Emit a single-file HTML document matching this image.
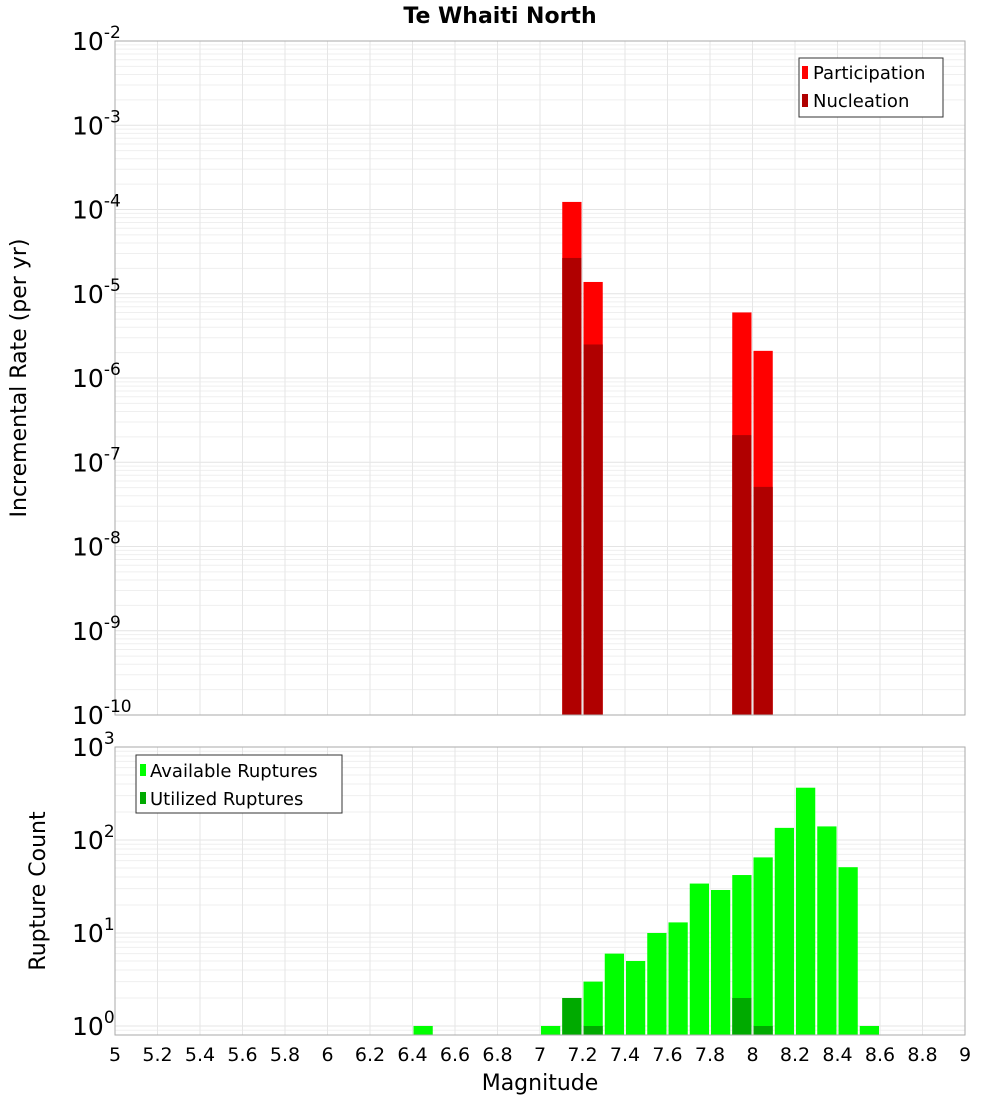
<!DOCTYPE html>
<html><head><meta charset="utf-8"><style>
body{margin:0;background:#fff;font-family:"Liberation Sans","DejaVu Sans",sans-serif}
svg text{font-family:"DejaVu Sans","Liberation Sans",sans-serif}
</style></head><body>
<svg id="c" width="1000" height="1100" xmlns="http://www.w3.org/2000/svg">
<text x="500" y="23" text-anchor="middle" font-size="22" font-weight="bold">Te Whaiti North</text>
<g id="top"></g>
<g id="bot"></g>
<text transform="translate(26,378) rotate(-90)" text-anchor="middle" font-size="22">Incremental Rate (per yr)</text>
<text transform="translate(45,891) rotate(-90)" text-anchor="middle" font-size="22">Rupture Count</text>
<text x="540" y="1090" text-anchor="middle" font-size="22">Magnitude</text>
</svg>
<script>
const mags=[7.15,7.25,7.95,8.05];
const participation=[1.23e-4,1.38e-5,6e-6,2.1e-6];
const nucleation=[2.66e-5,2.5e-6,2.1e-7,5.1e-8];
const countMags=[6.45,7.05,7.15,7.25,7.35,7.45,7.55,7.65,7.75,7.85,7.95,8.05,8.15,8.25,8.35,8.45,8.55];
const available=[1,1,2,3,6,5,10,13,34,29,42,65,135,365,140,51,1];
const utilizedMags=[7.15,7.25,7.95,8.05];
const utilized=[2,1,2,1];
const xTicks=[5,5.2,5.4,5.6,5.8,6,6.2,6.4,6.6,6.8,7,7.2,7.4,7.6,7.8,8,8.2,8.4,8.6,8.8,9];
const topExps=[-2,-3,-4,-5,-6,-7,-8,-9,-10];
const botExps=[0,1,2,3];
const NS="http://www.w3.org/2000/svg";
const L=115,R=965;
const xs=m=>L+(m-5)/4*(R-L);
const BW=xs(5.1)-L-2;
function mk(p,t,a){const e=document.createElementNS(NS,t);for(const k in a)e.setAttribute(k,a[k]);p.appendChild(e);return e;}
function panel(g,top,bot,lmin,lmax,name){
 const ys=v=>bot-(Math.log10(v)-lmin)/(lmax-lmin)*(bot-top);
 for(let d=Math.floor(lmin);d<lmax;d++)for(let k=1;k<10;k++){const v=k*Math.pow(10,d);const lv=Math.log10(v);if(lv<lmin||lv>lmax)continue;
  const ln=mk(g,'line',{x1:L,x2:R,y1:ys(v),y2:ys(v),stroke:k==1?'#e4e4e4':'#efefef','stroke-width':1});
  
  }
 xTicks.forEach(t=>{const ln=mk(g,'line',{x1:xs(t),x2:xs(t),y1:top,y2:bot,stroke:'#e6e6e6'});
  
  });
 return ys;
}
const gt=document.getElementById('top'),gb=document.getElementById('bot');
const yt=panel(gt,41,715,-10,-2,'rate');
mags.forEach((m,i)=>{
 const r=mk(gt,'rect',{x:xs(m-0.05)+1,width:BW,y:yt(participation[i]),height:715-yt(participation[i]),fill:'#ff0000'});
 
 
 const n=mk(gt,'rect',{x:xs(m-0.05)+1,width:BW,y:yt(nucleation[i]),height:715-yt(nucleation[i]),fill:'#b00000'});
 
 
});
mk(gt,'rect',{x:L,y:41,width:R-L,height:674,fill:'none',stroke:'#aaa'});
topExps.forEach(e=>{const t=mk(gt,'text',{x:72,y:yt(Math.pow(10,e))+9,'font-size':25});
 
 
 t.innerHTML='10<tspan dy="-12" font-size="17">'+e+'</tspan>';});
const lg=mk(gt,'g',{});


mk(lg,'rect',{x:799,y:58,width:144,height:59,fill:'#fff',stroke:'#333'});
mk(lg,'rect',{x:802,y:66,width:6,height:13,fill:'#ff0000'});
mk(lg,'text',{x:813,y:79,'font-size':18}).textContent='Participation';
mk(lg,'rect',{x:802,y:94,width:6,height:13,fill:'#b00000'});
mk(lg,'text',{x:813,y:107,'font-size':18}).textContent='Nucleation';

const yb=panel(gb,747,1035,Math.log10(0.8),3,'count');
countMags.forEach((m,i)=>{const r=mk(gb,'rect',{x:xs(m-0.05)+1,width:BW,y:yb(available[i]),height:1035-yb(available[i]),fill:'#00ff00'});
 
 });
utilizedMags.forEach((m,i)=>{const r=mk(gb,'rect',{x:xs(m-0.05)+1,width:BW,y:yb(utilized[i]),height:1035-yb(utilized[i]),fill:'#00aa00'});
 
 });
mk(gb,'rect',{x:L,y:747,width:R-L,height:288,fill:'none',stroke:'#aaa'});
botExps.forEach(e=>{const t=mk(gb,'text',{x:72,y:yb(Math.pow(10,e))+9,'font-size':25});
 
 
 t.innerHTML='10<tspan dy="-12" font-size="17">'+e+'</tspan>';});
xTicks.forEach(t=>{const tx=mk(gb,'text',{x:xs(t),y:1061,'text-anchor':'middle','font-size':19});
 
 
 tx.textContent=String(t);});
const lb=mk(gb,'g',{});


mk(lb,'rect',{x:136,y:755,width:206,height:58,fill:'#fff',stroke:'#333'});
mk(lb,'rect',{x:140,y:764,width:6,height:12,fill:'#00ff00'});
mk(lb,'text',{x:150,y:777,'font-size':18}).textContent='Available Ruptures';
mk(lb,'rect',{x:140,y:792,width:6,height:12,fill:'#00aa00'});
mk(lb,'text',{x:150,y:805,'font-size':18}).textContent='Utilized Ruptures';
</script>
</body></html>
